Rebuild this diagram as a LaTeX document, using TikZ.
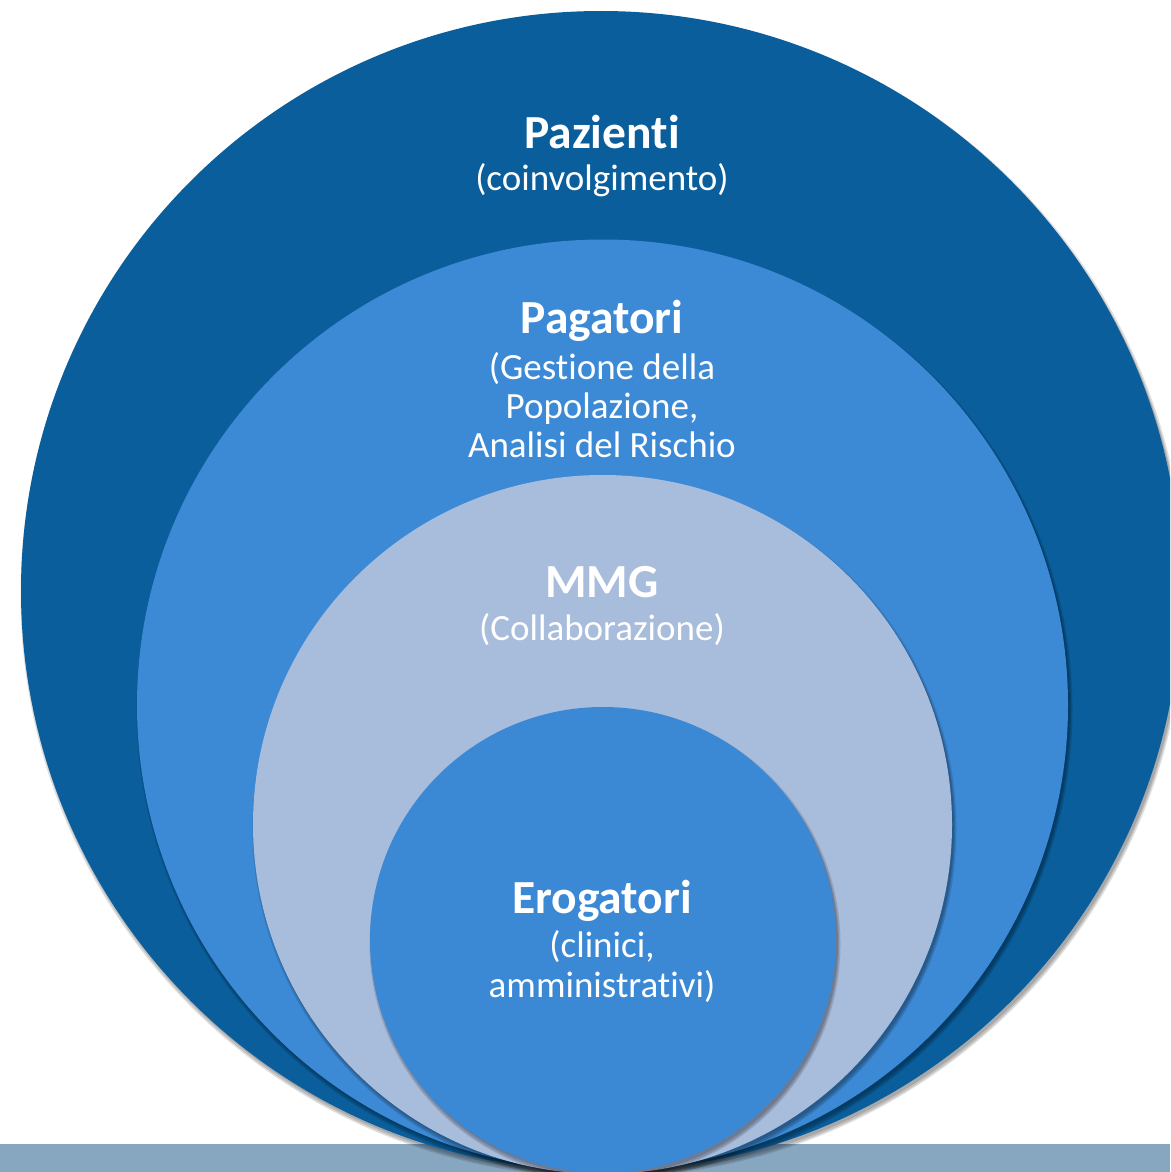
\documentclass[tikz,border=0pt]{standalone}
\usepackage{fontspec}
\setmainfont{Carlito}[Ligatures={NoCommon,NoContextual}]
\definecolor{cOuter}{RGB}{10,94,156}
\definecolor{cMid}{RGB}{60,138,214}
\definecolor{cLight}{RGB}{168,188,220}
\definecolor{cInner}{RGB}{59,136,213}
\definecolor{cBar}{RGB}{135,166,192}
\tikzset{
  shadowlayer/.style={fill=black, fill opacity=0.13},
  titletext/.style={text=white, anchor=base, inner sep=0pt, font=\bfseries\fontsize{47.5}{52}\selectfont},
  subtext/.style={text=white, anchor=base, inner sep=0pt, font=\fontsize{37}{41}\selectfont},
}
\newcommand{\shadedcircle}[4]{%
  \fill[shadowlayer] (#1+2,#2+4) circle (#3+2.5);
  \fill[shadowlayer] (#1+2,#2+4) circle (#3+1);
  \fill[shadowlayer] (#1+2,#2+3) circle (#3);
  \fill[#4] (#1,#2) circle (#3);
}
\begin{document}
\begin{tikzpicture}[x=1pt,y=-1pt]
  \useasboundingbox (0,0) rectangle (1170,1172);
  \clip (0,0) rectangle (1170,1172);
  \fill[white] (0,0) rectangle (1170,1172);
  % bottom bar
  \fill[cBar] (0,1144) rectangle (1170,1172);
  % circles
  \shadedcircle{601}{591}{580}{cOuter}
  \shadedcircle{602.5}{705}{465.5}{cMid}
  \shadedcircle{602.5}{824.5}{349.5}{cLight}
  \shadedcircle{603}{940}{233}{cInner}
  % texts
  \node[titletext] (t1) at (602,148) {Pazienti};
  \node[subtext] (s1) at (602,190) {(coinvolgimento)};
  \node[titletext] (t2) at (602,333) {Pagatori};
  \node[subtext] (s2a) at (602,379) {(Gestione della};
  \node[subtext] (s2b) at (602,418) {Popolazione,};
  \node[subtext] (s2c) at (602,457) {Analisi del Rischio};
  \node[titletext] (t3) at (602,597) {MMG};
  \node[subtext] (s3) at (602,640) {(Collaborazione)};
  \node[titletext] (t4) at (602,913) {Erogatori};
  \node[subtext] (s4a) at (602,957) {(clinici,};
  \node[subtext] (s4b) at (602,997) {amministrativi)};
\end{tikzpicture}
\end{document}
